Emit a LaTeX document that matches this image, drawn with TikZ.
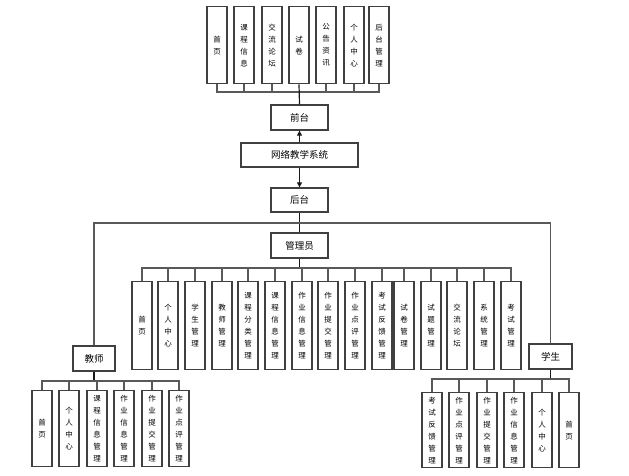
\documentclass[tikz,border=0pt]{standalone}
\usepackage{fontspec}
\setmainfont{Noto Sans CJK SC}
\usetikzlibrary{arrows.meta}
\tikzset{
  >={Triangle[length=5pt,width=5pt]},
  vbox/.style={rectangle,draw=black!75,line width=1.3pt,fill=white,minimum width=20pt,inner sep=0pt,align=center,anchor=north,font=\fontsize{7.5}{12}\selectfont},
  hbox/.style={rectangle,draw=black!75,line width=1.3pt,fill=white,inner sep=0pt,align=center,font=\fontsize{9.5}{12}\selectfont},
  link/.style={draw=black!65,line width=1.2pt},
  trunk/.style={draw=black!90,line width=1.2pt},
}
\begin{document}
\begin{tikzpicture}[x=1pt,y=-1pt]
  \useasboundingbox (0,0) rectangle (629,475);
  \node[hbox, minimum width=57pt, minimum height=25pt] (qt) at (299.5,117.5) {前台};
  \node[hbox, minimum width=117pt, minimum height=24pt] (sys) at (299.5,155) {网络教学系统};
  \node[hbox, minimum width=57pt, minimum height=24pt] (ht) at (299.5,200) {后台};
  \node[hbox, minimum width=57pt, minimum height=25pt] (gly) at (299.5,245.5) {管理员};
  \node[hbox, minimum width=42pt, minimum height=25pt] (js) at (94,358.5) {教师};
  \node[hbox, minimum width=43pt, minimum height=25pt] (xs) at (550.5,356.5) {学生};
  \coordinate (qbus) at (299.5,92);
  \coordinate (split) at (299.5,223);
  \coordinate (abus) at (299.5,268);
  \coordinate (jbus) at (94,381);
  \coordinate (xbus) at (550.5,379);
  \node[vbox, minimum height=77pt] (f1) at (217,6) {首\\页};
  \node[vbox, minimum height=77pt] (f2) at (244,6) {课\\程\\信\\息};
  \node[vbox, minimum height=77pt] (f3) at (272,6) {交\\流\\论\\坛};
  \node[vbox, minimum height=77pt] (f4) at (299,6) {试\\卷};
  \node[vbox, minimum height=77pt] (f5) at (326,6) {公\\告\\资\\讯};
  \node[vbox, minimum height=77pt] (f6) at (354,6) {个\\人\\中\\心};
  \node[vbox, minimum height=77pt] (f7) at (379,6) {后\\台\\管\\理};
  \node[vbox, minimum height=88pt] (a1) at (142,281) {首\\页};
  \node[vbox, minimum height=88pt] (a2) at (168,281) {个\\人\\中\\心};
  \node[vbox, minimum height=88pt] (a3) at (195,281) {学\\生\\管\\理};
  \node[vbox, minimum height=88pt] (a4) at (222,281) {教\\师\\管\\理};
  \node[vbox, minimum height=88pt] (a5) at (248,281) {课\\程\\分\\类\\管\\理};
  \node[vbox, minimum height=88pt] (a6) at (275,281) {课\\程\\信\\息\\管\\理};
  \node[vbox, minimum height=88pt] (a7) at (302,281) {作\\业\\信\\息\\管\\理};
  \node[vbox, minimum height=88pt] (a8) at (328,281) {作\\业\\提\\交\\管\\理};
  \node[vbox, minimum height=88pt] (a9) at (355,281) {作\\业\\点\\评\\管\\理};
  \node[vbox, minimum height=88pt] (a10) at (382,281) {考\\试\\反\\馈\\管\\理};
  \node[vbox, minimum height=88pt] (a11) at (404,281) {试\\卷\\管\\理};
  \node[vbox, minimum height=88pt] (a12) at (431,281) {试\\题\\管\\理};
  \node[vbox, minimum height=88pt] (a13) at (457,281) {交\\流\\论\\坛};
  \node[vbox, minimum height=88pt] (a14) at (484,281) {系\\统\\管\\理};
  \node[vbox, minimum height=88pt] (a15) at (511,281) {考\\试\\管\\理};
  \node[vbox, minimum height=76pt] (j1) at (42,390) {首\\页};
  \node[vbox, minimum height=76pt] (j2) at (69,390) {个\\人\\中\\心};
  \node[vbox, minimum height=76pt] (j3) at (97,390) {课\\程\\信\\息\\管\\理};
  \node[vbox, minimum height=76pt] (j4) at (124,390) {作\\业\\信\\息\\管\\理};
  \node[vbox, minimum height=76pt] (j5) at (152,390) {作\\业\\提\\交\\管\\理};
  \node[vbox, minimum height=76pt] (j6) at (179,390) {作\\业\\点\\评\\管\\理};
  \node[vbox, minimum height=75pt] (s1) at (432,392) {考\\试\\反\\馈\\管\\理};
  \node[vbox, minimum height=75pt] (s2) at (459,392) {作\\业\\点\\评\\管\\理};
  \node[vbox, minimum height=75pt] (s3) at (487,392) {作\\业\\提\\交\\管\\理};
  \node[vbox, minimum height=75pt] (s4) at (514,392) {作\\业\\信\\息\\管\\理};
  \node[vbox, minimum height=75pt] (s5) at (542,392) {个\\人\\中\\心};
  \node[vbox, minimum height=75pt] (s6) at (569,392) {首\\页};
  \draw[link] (f1.south) |- (qbus);
  \draw[link] (f2.south) |- (qbus);
  \draw[link] (f3.south) |- (qbus);
  \draw[link] (f5.south) |- (qbus);
  \draw[link] (f6.south) |- (qbus);
  \draw[link] (f7.south) |- (qbus);
  \draw[trunk] (f4.south) -- (qt.north);
  \draw[trunk,->] (sys.north) -- (qt.south);
  \draw[trunk,->] (sys.south) -- (ht.north);
  \draw[trunk] (ht.south) -- (gly.north);
  \draw[link] (split) -| (js.north);
  \draw[link] (split) -| (xs.north);
  \draw[trunk] (gly.south) -- (abus);
  \draw[link] (abus) -| (a1.north);
  \draw[link] (abus) -| (a2.north);
  \draw[link] (abus) -| (a3.north);
  \draw[link] (abus) -| (a4.north);
  \draw[link] (abus) -| (a5.north);
  \draw[link] (abus) -| (a6.north);
  \draw[link] (abus) -| (a7.north);
  \draw[link] (abus) -| (a8.north);
  \draw[link] (abus) -| (a9.north);
  \draw[link] (abus) -| (a10.north);
  \draw[link] (abus) -| (a11.north);
  \draw[link] (abus) -| (a12.north);
  \draw[link] (abus) -| (a13.north);
  \draw[link] (abus) -| (a14.north);
  \draw[link] (abus) -| (a15.north);
  \draw[trunk] (js.south) -- (jbus);
  \draw[link] (jbus) -| (j1.north);
  \draw[link] (jbus) -| (j2.north);
  \draw[link] (jbus) -| (j3.north);
  \draw[link] (jbus) -| (j4.north);
  \draw[link] (jbus) -| (j5.north);
  \draw[link] (jbus) -| (j6.north);
  \draw[trunk] (xs.south) -- (xbus);
  \draw[link] (xbus) -| (s1.north);
  \draw[link] (xbus) -| (s2.north);
  \draw[link] (xbus) -| (s3.north);
  \draw[link] (xbus) -| (s4.north);
  \draw[link] (xbus) -| (s5.north);
  \draw[link] (xbus) -| (s6.north);
\end{tikzpicture}
\end{document}
